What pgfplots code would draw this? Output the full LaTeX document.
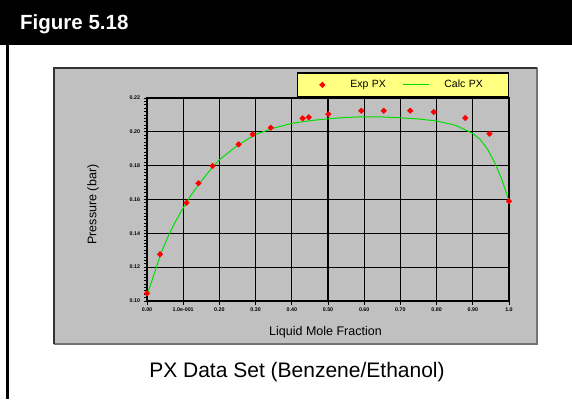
\documentclass[border=0pt]{standalone}
\usepackage{pgfplots}
\pgfplotsset{compat=1.18}
\usepackage{fontspec}
\setmainfont{Liberation Sans}
\definecolor{panelgray}{HTML}{C0C0C0}
\definecolor{legyellow}{HTML}{FFFF80}
\definecolor{calcgreen}{HTML}{00E000}
\definecolor{expred}{HTML}{FF0000}
\pgfplotsset{
  explegend/.style={legend image code/.code={\path[draw=none,fill=none] (0pt,-3pt) rectangle (26pt,3pt);\draw[mark repeat=2,mark phase=2,##1] plot coordinates {(0pt,0pt)(13pt,0pt)(26pt,0pt)};}},
  calclegend/.style={legend image code/.code={\path[draw=none,fill=none] (0pt,-3pt) rectangle (26pt,3pt);\draw[##1] (0pt,0pt) -- (26pt,0pt);}},
}
\begin{document}
\begin{tikzpicture}
\path[use as bounding box] (0pt,0pt) rectangle (572pt,399pt);
% header
\fill[black] (0pt,354pt) rectangle (572pt,399pt);
\node[anchor=west, text=white, font=\fontsize{20.5}{24}\selectfont\bfseries, inner sep=0pt] at (20pt,375pt) {Figure 5.18};
\fill[black] (6.3pt,0pt) rectangle (8.5pt,354pt);
% panel
\fill[panelgray] (53pt,55pt) rectangle (538pt,332pt);
\draw[line width=2pt, color=black!55] (54pt,55pt) -- (537pt,55pt) -- (537pt,331pt);
\draw[line width=2.5pt, color=black!80] (54.2pt,55pt) -- (54.2pt,330.8pt) -- (537pt,330.8pt);
% caption
\node[anchor=base, font=\fontsize{21}{25}\selectfont, inner sep=0pt] at (297pt,22pt) {PX Data Set (Benzene/Ethanol)};
\begin{axis}[
  at={(147pt,98pt)}, anchor=south west,
  scale only axis, width=362pt, height=203pt,
  xmin=0, xmax=1, ymin=0.10, ymax=0.22,
  clip=false,
  axis line style={black, line width=1.2pt},
  grid=major, major grid style={black, line width=1.2pt},
  xtick={0,0.1,...,1.0},
  xticklabels={0.00,1.0e-001,0.20,0.30,0.40,0.50,0.60,0.70,0.80,0.90,1.0},
  ytick={0.10,0.12,...,0.22},
  yticklabels={0.10,0.12,0.14,0.16,0.18,0.20,0.22},
  minor y tick num=9,
  xtick pos=left, ytick pos=left,
  tick align=outside,
  major tick length=3.5pt, minor tick length=3pt,
  tick style={black, line width=0.8pt},
  /pgf/number format/assume math mode=true,
  ticklabel style={font=\fontsize{5.3}{6}\selectfont\bfseries},
  xticklabel style={yshift=0.5pt},
  xlabel={Liquid Mole Fraction},
  ylabel={Pressure (bar)},
  label style={font=\fontsize{12.5}{14}\selectfont},
  xlabel style={at={(axis description cs:0.493,-0.153)}, anchor=center},
  ylabel style={at={(axis description cs:-0.149,0.475)}, anchor=center},
  legend style={at={(1,1)}, anchor=south east, yshift=0.8pt,
    fill=legyellow, draw=black, line width=1.3pt,
    font=\fontsize{10.5}{12}\selectfont,
    legend columns=2, inner xsep=12pt, inner ysep=7.2pt,
    nodes={inner sep=0pt},
    /tikz/every odd column/.append style={column sep=15pt},
    /tikz/every even column/.append style={text width=52pt},
    legend cell align=left},
]
\addplot[only marks, mark=diamond*, mark size=3pt, color=expred, line width=0.8pt,
  mark options={xscale=1.15, yscale=0.85}, explegend]
 coordinates {
 (0.000,0.1046) (0.036,0.1276) (0.109,0.1581) (0.142,0.1696)
 (0.181,0.1798) (0.253,0.1926) (0.292,0.1985) (0.342,0.2024)
 (0.430,0.2080) (0.447,0.2086) (0.501,0.2105) (0.592,0.2125)
 (0.654,0.2125) (0.727,0.2125) (0.792,0.2117) (0.879,0.2082)
 (0.946,0.1989) (1.000,0.1590)
 };
\addlegendentry{Exp PX}
\addplot[calcgreen, line width=1pt, no marks, calclegend]
 coordinates {
 (0.00,0.1035) (0.02,0.1160) (0.04,0.1290) (0.06,0.1390) (0.08,0.1475)
 (0.10,0.1550) (0.12,0.1620) (0.14,0.1680) (0.16,0.1735) (0.18,0.1790)
 (0.20,0.1835) (0.25,0.1920) (0.30,0.1985) (0.35,0.2022) (0.40,0.2050)
 (0.45,0.2066) (0.50,0.2077) (0.55,0.2085) (0.60,0.2089) (0.65,0.2088)
 (0.70,0.2083) (0.75,0.2076) (0.80,0.2064) (0.85,0.2040) (0.88,0.2011)
 (0.90,0.1990) (0.92,0.1955) (0.94,0.1900) (0.96,0.1820) (0.98,0.1720)
 (1.00,0.1590)
 };
\addlegendentry{Calc PX}
\end{axis}
\end{tikzpicture}
\end{document}
